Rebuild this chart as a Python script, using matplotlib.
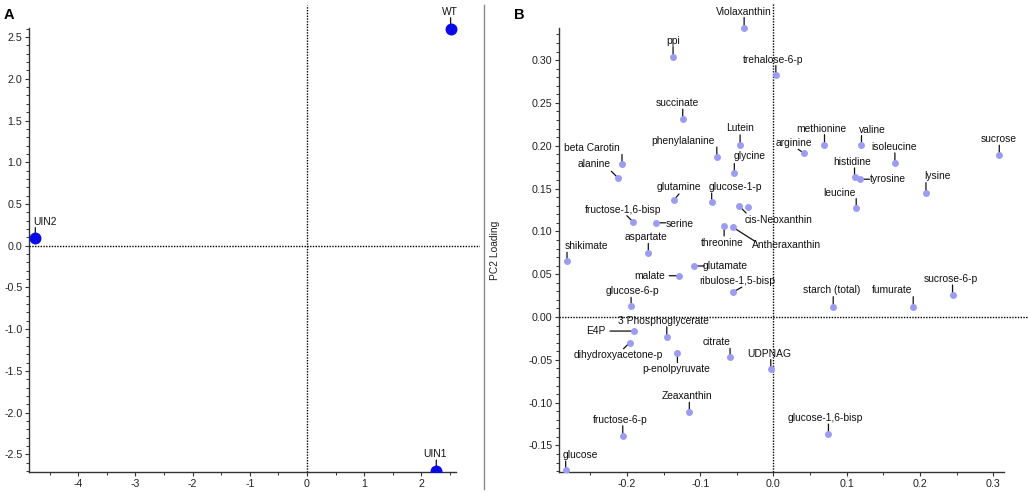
import numpy as np
import matplotlib
matplotlib.use("Agg")
import matplotlib.pyplot as plt
from matplotlib.patches import ConnectionPatch
from matplotlib.lines import Line2D
from matplotlib.ticker import FixedLocator, FormatStrFormatter
from matplotlib.transforms import offset_copy

plt.rcParams['font.family'] = ['Liberation Sans', 'DejaVu Sans']
plt.rcParams['axes.unicode_minus'] = False

# ---------------- data ----------------
a_names = ['WT', 'UIN2', 'UIN1']
a_pc1 = [2.51, -4.75, 2.26]
a_pc2 = [2.60, 0.096, -2.70]

b_names = ['Violaxanthin', 'ppi', 'trehalose-6-p', 'succinate', 'Lutein',
           'phenylalanine', 'glycine', 'beta Carotin', 'alanine', 'glutamine',
           'glucose-1-p', 'cis-Neoxanthin', '', 'fructose-1,6-bisp', 'serine',
           'threonine', 'Antheraxanthin', 'aspartate', 'shikimate', 'glutamate',
           'malate', 'ribulose-1,5-bisp', 'glucose-6-p', 'E4P',
           '3 Phosphoglycerate', 'dihydroxyacetone-p', 'p-enolpyruvate',
           'citrate', 'UDPNAG', 'Zeaxanthin', 'fructose-6-p', 'glucose',
           'methionine', 'valine', 'arginine', 'isoleucine', 'sucrose',
           'histidine', 'tyrosine', 'lysine', 'leucine', 'starch (total)',
           'fumurate', 'sucrose-6-p', 'glucose-1,6-bisp']
b_pc1 = [-0.0400, -0.137, 0.0033, -0.1238, -0.0455,
         -0.0773, -0.0534, -0.2067, -0.2117, -0.1357,
         -0.0843, -0.0469, -0.0342, -0.1919, -0.1609,
         -0.0673, -0.0553, -0.1708, -0.2818, -0.1079,
         -0.1286, -0.0555, -0.1943, -0.1903,
         -0.1456, -0.1964, -0.1311,
         -0.0592, -0.0036, -0.1148, -0.2057, -0.2836,
         0.0697, 0.1202, 0.0419, 0.1658, 0.3083,
         0.1107, 0.1175, 0.2082, 0.1130, 0.0816,
         0.1908, 0.2445, 0.0751]
b_pc2 = [0.338, 0.304, 0.283, 0.231, 0.201,
         0.1867, 0.1676, 0.1782, 0.162, 0.1367,
         0.1343, 0.1297, 0.1282, 0.1113, 0.110,
         0.1063, 0.1048, 0.0742, 0.0651, 0.0596,
         0.0482, 0.029, 0.0124, -0.0164,
         -0.0231, -0.030, -0.0415,
         -0.0471, -0.0602, -0.1113, -0.1387, -0.1787,
         0.2013, 0.2013, 0.1912, 0.1799, 0.1889,
         0.1636, 0.1609, 0.1452, 0.1277, 0.012,
         0.012, 0.0257, -0.1367]

a_xticks = [-4, -3, -2, -1, 0, 1, 2]
a_yticks = [-2.5, -2.0, -1.5, -1.0, -0.5, 0.0, 0.5, 1.0, 1.5, 2.0, 2.5]
b_xticks = [-0.2, -0.1, 0.0, 0.1, 0.2, 0.3]
b_yticks = [-0.15, -0.10, -0.05, 0.00, 0.05, 0.10, 0.15, 0.20, 0.25, 0.30]

# ------------- label layout (pixel offsets: text dx, dy(down), leader end lx, ly(down)) -------------
a_layout = {
    'WT': (-1, -17, 0, -11),
    'UIN2': (10, -16, 0, -10),
    'UIN1': (-1, -17, 0, -11),
}
b_layout = {
    'Violaxanthin': (0, -16, 0, -10),
    'ppi': (0, -16, 0, -10),
    'trehalose-6-p': (-3, -15, 0, -9),
    'succinate': (-5, -16, 0, -10),
    'Lutein': (0, -17, 0, -10),
    'phenylalanine': (-34, -16, 0, -10),
    'glycine': (15, -17, 0, -10),
    'beta Carotin': (-30, -16, 0, -10),
    'alanine': (-24, -14, -7, -7),
    'glutamine': (5, -13, 5, -6),
    'glucose-1-p': (24, -15, 0, -9),
    'cis-Neoxanthin': (39, 14, 7, 7),
    'fructose-1,6-bisp': (-10, -12, -6, -6),
    'serine': (24, 1, 10, 0),
    'threonine': (-2, 17, 0, 10),
    'Antheraxanthin': (54, 18, 22, 14),
    'aspartate': (-2, -16, 0, -10),
    'shikimate': (19, -15, 0, -9),
    'glutamate': (31, 0, 10, 0),
    'malate': (-30, 0, -10, 0),
    'ribulose-1,5-bisp': (4, -11, 9, -5),
    'glucose-6-p': (1, -15, 0, -9),
    '3 Phosphoglycerate': (-3, -16, 0, -10),
    'E4P': (-38, 0, -24, 0),
    'dihydroxyacetone-p': (-11, 12, -6, 6),
    'p-enolpyruvate': (-1, 16, 0, 10),
    'citrate': (-14, -15, 0, -9),
    'UDPNAG': (-2, -15, 0, -9),
    'Zeaxanthin': (-2, -16, 0, -10),
    'fructose-6-p': (-2, -16, 0, -10),
    'glucose': (15, -15, 0, -9),
    'methionine': (-3, -16, 0, -10),
    'valine': (11, -15, 0, -9),
    'arginine': (-10, -10, -6, -4),
    'isoleucine': (-1, -16, 0, -10),
    'sucrose': (-1, -16, 0, -10),
    'histidine': (-2, -15, 0, -9),
    'tyrosine': (28, 0, 10, 0),
    'lysine': (11, -17, 0, -10),
    'leucine': (-17, -15, 0, -9),
    'starch (total)': (-2, -17, 0, -10),
    'fumurate': (-21, -17, 0, -10),
    'sucrose-6-p': (-2, -16, 0, -10),
    'glucose-1,6-bisp': (-3, -16, 0, -10),
}

W, H, DPI = 1028, 493, 100
fig = plt.figure(figsize=(W / DPI, H / DPI), dpi=DPI)


def px_rect(x0, x1, ytop, ybot):
    return [x0 / W, (H - ybot) / H, (x1 - x0) / W, (ybot - ytop) / H]


axA = fig.add_axes(px_rect(29.3, 480, 5, 471.7))
axB = fig.add_axes(px_rect(559.3, 1028, 3.3, 471.7))

axA.set_xlim(-4.855, 3.024)
axA.set_ylim(-2.708, 2.884)
axB.set_xlim(-0.2923, 0.3475)
axB.set_ylim(-0.1806, 0.3663)


def style_axes(ax, xb, yb, xt, yt, xminor, yminor, xfmt, yfmt):
    for s in ['top', 'right']:
        ax.spines[s].set_visible(False)
    for s in ['left', 'bottom']:
        ax.spines[s].set_color('#333333')
        ax.spines[s].set_linewidth(1.0)
    ax.spines['bottom'].set_bounds(*xb)
    ax.spines['left'].set_bounds(*yb)
    ax.xaxis.set_major_locator(FixedLocator(xt))
    ax.yaxis.set_major_locator(FixedLocator(yt))
    ax.xaxis.set_minor_locator(FixedLocator(xminor))
    ax.yaxis.set_minor_locator(FixedLocator(yminor))
    ax.xaxis.set_major_formatter(FormatStrFormatter(xfmt))
    ax.yaxis.set_major_formatter(FormatStrFormatter(yfmt))
    ax.tick_params(which='major', direction='out', length=3, width=0.8,
                   labelsize=7.7, pad=2, colors='#333333', labelcolor='#222222')
    ax.tick_params(which='minor', direction='out', length=2, width=0.7,
                   colors='#333333')
    ax.patch.set_visible(False)
    ax.axhline(0, color='black', lw=1.0, ls=(0, (1, 1)), zorder=1)
    ax.axvline(0, color='black', lw=1.0, ls=(0, (1, 1)), zorder=1)


style_axes(axA, (-4.855, 2.605), (-2.708, 2.608), a_xticks, a_yticks,
           np.arange(-4.5, 2.6, 1.0), np.round(np.arange(-2.7, 2.61, 0.1), 2),
           '%d', '%.1f')
style_axes(axB, (-0.2923, 0.3152), (-0.1806, 0.3371), b_xticks, b_yticks,
           np.arange(-0.25, 0.26, 0.1), np.round(np.arange(-0.18, 0.335, 0.01), 3),
           '%.1f', '%.2f')


def draw_points(ax, xs, ys, names, layout, color, ms):
    ax.plot(xs, ys, 'o', color=color, ms=ms, mec='none', zorder=5, clip_on=True)
    for x, y, n in zip(xs, ys, names):
        if not n:
            continue
        tx, ty, lx, ly = layout[n]
        ax.annotate(n, xy=(x, y), xytext=(tx, -ty), textcoords='offset pixels',
                    ha='center', va='center', fontsize=7.4, color='#111111',
                    zorder=6, annotation_clip=False)
        tr = offset_copy(ax.transData, fig=fig, x=lx, y=-ly, units='dots')
        con = ConnectionPatch(xyA=(x, y), xyB=(x, y), coordsA=ax.transData,
                              coordsB=tr, arrowstyle='-', shrinkA=0, shrinkB=0,
                              color='#111111', lw=0.9, zorder=4)
        ax.add_artist(con)


draw_points(axA, a_pc1, a_pc2, a_names, a_layout, '#0a0ae6', 8.6)
draw_points(axB, b_pc1, b_pc2, b_names, b_layout, '#9c9cf2', 5.0)

fig.text(9 / W, 1 - 15 / H, 'A', fontsize=10.5, fontweight='bold', ha='center', va='center')
fig.text(519.3 / W, 1 - 15 / H, 'B', fontsize=10.5, fontweight='bold', ha='center', va='center')
fig.text(495 / W, 1 - 250.5 / H, 'PC2 Loading', fontsize=7.4, rotation=90,
         ha='center', va='center', color='#222222')

fig.add_artist(Line2D([483.5 / W, 483.5 / W], [1 - 5 / H, 1 - 489 / H],
                      transform=fig.transFigure, color='#8a8a8a', lw=1.0))

fig.savefig('out.png', dpi=DPI)
